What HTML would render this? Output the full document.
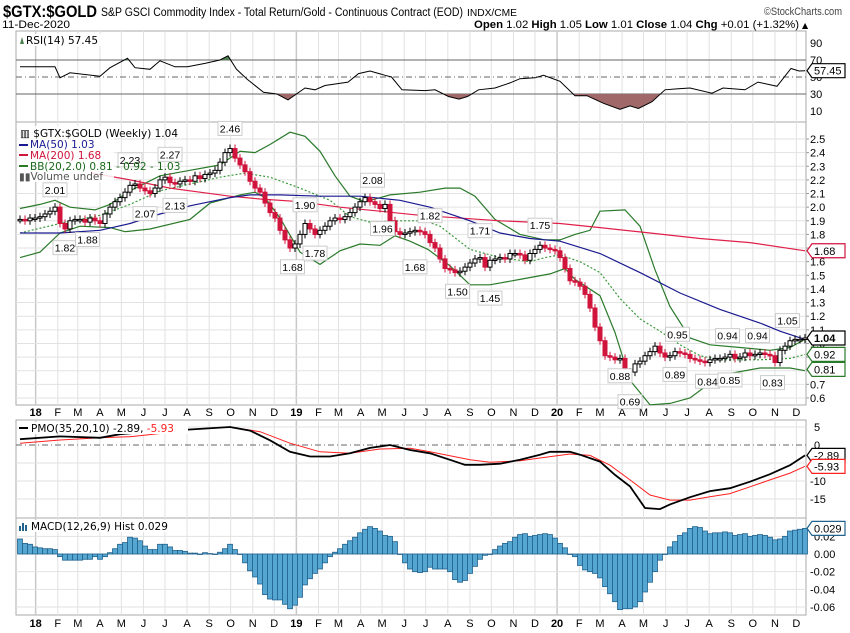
<!DOCTYPE html>
<html><head><meta charset="utf-8"><title>$GTX:$GOLD</title>
<style>
html,body{margin:0;padding:0;background:#fff;width:850px;height:633px;overflow:hidden}
svg{display:block;font-family:"DejaVu Sans","Liberation Sans",sans-serif}
.ax{font-family:"Liberation Sans",sans-serif;font-size:11px;fill:#000}
.lg{font-size:10.5px}
.ann{font-family:"Liberation Sans",sans-serif;font-size:10.5px}
</style></head>
<body>
<svg id="chart" width="850" height="633" viewBox="0 0 850 633" xmlns="http://www.w3.org/2000/svg">
<g id="header">
<text x="3" y="17" textLength="94" lengthAdjust="spacingAndGlyphs" style="font-family:'Liberation Sans',sans-serif;font-weight:bold;font-size:17px">$GTX:$GOLD</text>
<text x="101" y="16" textLength="362" lengthAdjust="spacingAndGlyphs" style="font-family:'Liberation Sans',sans-serif;font-size:11.5px">S&amp;P GSCI Commodity Index - Total Return/Gold - Continuous Contract (EOD)</text>
<text x="467" y="16" textLength="50" lengthAdjust="spacingAndGlyphs" style="font-family:'Liberation Sans',sans-serif;font-size:10px">INDX/CME</text>
<text x="842" y="15" text-anchor="end" textLength="78" lengthAdjust="spacingAndGlyphs" style="font-family:'Liberation Sans',sans-serif;font-size:11px;fill:#444">©StockCharts.com</text>
<text x="2" y="28" textLength="68" lengthAdjust="spacingAndGlyphs" style="font-family:'Liberation Sans',sans-serif;font-size:11px">11-Dec-2020</text>
<text x="474" y="28" textLength="325" lengthAdjust="spacingAndGlyphs" style="font-family:'Liberation Sans',sans-serif;font-size:11px"><tspan font-weight="bold">Open</tspan> 1.02 <tspan font-weight="bold">High</tspan> 1.05 <tspan font-weight="bold">Low</tspan> 1.01 <tspan font-weight="bold">Close</tspan> 1.04 <tspan font-weight="bold">Chg</tspan> +0.01 (+1.32%)</text>
<text x="802" y="28" style="font-size:8px">▲</text>
</g>
<g id="grid"></g>
<g id="plots"></g>
<g id="overlay"></g>
</svg>
<script>
// ---------- data ----------
const closes = [1.91,1.90,1.92,1.92,1.93,1.95,1.97,2.00,1.88,1.84,
1.90,1.91,1.91,1.89,1.92,1.90,1.88,1.95,2.00,2.04,
2.07,2.11,2.16,2.17,2.14,2.12,2.10,2.14,2.20,2.22,
2.18,2.17,2.19,2.20,2.19,2.23,2.21,2.24,2.25,2.27,
2.33,2.40,2.43,2.36,2.31,2.26,2.19,2.14,2.11,2.03,
1.96,1.92,1.83,1.76,1.70,1.73,1.80,1.88,1.84,1.80,
1.83,1.86,1.90,1.92,1.91,1.93,1.96,2.00,2.04,2.07,
2.04,2.02,1.99,2.02,1.90,1.82,1.80,1.81,1.82,1.83,
1.82,1.80,1.74,1.70,1.62,1.55,1.54,1.52,1.53,1.56,
1.59,1.62,1.63,1.56,1.61,1.62,1.63,1.62,1.66,1.66,
1.65,1.61,1.66,1.69,1.72,1.70,1.69,1.68,1.63,1.55,
1.46,1.45,1.42,1.36,1.26,1.12,1.02,0.91,0.90,0.88,
0.89,0.76,0.79,0.85,0.87,0.91,0.94,0.98,0.93,0.90,
0.91,0.94,0.93,0.92,0.89,0.88,0.87,0.86,0.88,0.89,
0.89,0.90,0.92,0.89,0.90,0.93,0.91,0.92,0.93,0.92,
0.91,0.86,0.95,0.98,1.02,1.03,1.03,1.04];
const ma50Weeks = [0,8,16,22,28,34,38,42,46,52,60,68,76,82,90,96,102,108,116,124,132,140,148,152,157];
const ma50Values = [1.81,1.81,1.83,1.88,1.95,2.01,2.04,2.07,2.09,2.09,2.08,2.08,2.05,2.00,1.90,1.81,1.77,1.75,1.66,1.52,1.37,1.25,1.15,1.09,1.03];
const ma200Weeks = [14.4,22,30,36,42,48,56,64,72,80,84,96,108,116,126,136,146,157];
const ma200Values = [2.25,2.20,2.14,2.11,2.08,2.06,2.04,2.00,1.97,1.94,1.93,1.90,1.88,1.85,1.81,1.77,1.74,1.68];
const bbUpperWeeks = [0,4,7,10,15,18,22,28,34,40,44,47,50,54,57,60,63,66,69,74,80,85,88,91,95,100,105,108,111,114,116,121,124,127,130,134,138,144,150,154,157];
const bbUpperValues = [1.99,2.02,2.05,2.00,1.98,2.02,2.12,2.23,2.27,2.31,2.41,2.40,2.46,2.55,2.52,2.41,2.23,2.08,2.04,2.09,2.11,2.14,2.14,2.08,1.91,1.80,1.76,1.76,1.80,1.83,1.97,1.98,1.86,1.54,1.27,1.04,0.99,0.97,0.95,0.97,1.03];
const bbLowerWeeks = [0,4,8,12,18,21,26,34,38,44,47,49,52,56,60,64,68,72,75,78,81.6,86,90,94,100,106,109,111,116,119,122,126,130,134,138,142,148,154,157];
const bbLowerValues = [1.63,1.67,1.81,1.86,1.85,1.82,1.84,1.91,2.03,2.09,2.11,2.07,1.92,1.67,1.58,1.68,1.73,1.72,1.79,1.75,1.69,1.57,1.43,1.43,1.47,1.51,1.55,1.47,1.35,1.08,0.73,0.55,0.56,0.60,0.71,0.78,0.82,0.82,0.80];
const bbMidWeeks = [0,8,16,22,28,34,40,45,50,56,62,66,70,76,81,84,90,96,102,105,108,112,116,120,124,128,132,136,140,148,154,157];
const bbMidValues = [1.81,1.88,1.94,2.02,2.12,2.17,2.22,2.25,2.22,2.14,2.05,1.93,1.89,1.90,1.90,1.86,1.69,1.63,1.60,1.63,1.65,1.60,1.52,1.33,1.18,1.09,0.99,0.91,0.88,0.88,0.89,0.92];
const rsiWeeks = [0,7,8,10,16,18,21.5,23,26,28,31,33.5,37,40,41.6,43.3,45.5,48.7,51.4,53.6,57,59,61,65.6,67.7,70,73,74.3,76.4,81,83,85.7,87.8,89.5,91.7,95,98,100,103,104.7,108,111,113.4,116.7,120,122,123.7,126.4,129,131.3,134,138.4,140.6,145,147.6,151.4,154.2,155.8,157];
const rsiValues = [62,62,49,55,51,61,72,61,59,69,62,62,66,70,75,59,47,32,30,23,37,35,40,44,54,57,52,50,35,34,35,27,24,27,35,37,43,48,49,52,45,28,28,19,12,16,13,21,35,36,37,31,37,35,44,39,60,57,57.45];
const pmoWeeks = [0,8,16,20,25,29,34,42,46,50,54,58,62,66,70,74,78,82,86,89,92,96,100,104,106,110,112,116,119,122,125,128,130,134,138,142,146,150,154,157];
const pmoValues = [1.6,2.4,2.0,3.0,3.6,4.0,4.3,5.0,4.0,1.3,-1.9,-3.2,-3.2,-2.3,-0.8,0,-1.4,-2.3,-4.1,-5.5,-5.5,-5.2,-4.1,-2.7,-1.9,-1.9,-2.7,-4.6,-8.3,-11.5,-17.5,-17.8,-16.5,-14.5,-12.8,-12,-10.2,-8.1,-5.6,-2.89];
const pmoSigWeeks = [0,8,16,22,28,34,42,48,54,60,66,72,78,82,90,94,100,104,110,114,118,122,126,130,134,138,142,146,150,154,157];
const pmoSigValues = [0.5,1.4,2.0,2.3,3.2,4.3,5.0,3.7,0.5,-1.9,-2.3,-1.1,-0.9,-1.9,-4.1,-4.8,-4.4,-3.6,-2.5,-2.9,-5.6,-9.7,-13.9,-15.3,-15.3,-14.4,-13.5,-11.6,-9.7,-7.8,-5.93];
const macdHist = [.017,.012,.011,.008,.007,.006,.006,.005,-.003,-.007,
-.007,-.007,-.007,-.006,-.006,-.003,-.006,-.003,.0015,.006,
.011,.013,.019,.018,.015,.009,.005,.005,.011,.011,
.008,.004,.004,.003,.001,.001,0,.0015,.0005,-.0005,
.002,.006,.011,.005,-.0005,-.010,-.019,-.026,-.034,-.046,
-.051,-.052,-.052,-.057,-.062,-.058,-.049,-.035,-.028,-.022,
-.017,-.010,-.003,.002,.006,.011,.015,.019,.024,.028,
.031,.029,.026,.021,.020,.014,0,-.010,-.017,-.020,
-.021,-.020,-.015,
-.017,-.017,-.017,-.020,-.029,-.032,-.030,-.022,-.014,-.006,
-.0015,-.0005,.005,.009,.012,.014,.019,.022,.023,.020,
.021,.022,.023,.022,.018,.012,.007,-.0005,-.003,-.013,
-.018,-.020,-.022,-.027,-.037,-.045,-.054,-.063,-.062,-.062,
-.060,-.054,-.043,-.032,-.020,-.007,-.0005,.008,.014,.021,
.024,.029,.031,.030,.026,.023,.024,.024,.025,.024,
.021,.022,.023,.020,.021,.022,.021,.019,.016,.017,
.020,.026,.027,.028,.029];
const priceTicks = [2.5,2.4,2.3,2.2,2.1,2.0,1.9,1.8,1.7,1.6,1.5,1.4,1.3,1.2,1.1,1.0,0.9,0.8,0.7,0.6];
const rsiTicks = [90,70,50,30,10];
const pmoTicks = [5,0,-5,-10,-15];
const macdTicks = [0.02,0.00,-0.02,-0.04,-0.06];
const monthLabels = ["18","F","M","A","M","J","J","A","S","O","N","D","19","F","M","A","M","J","J","A","S","O","N","D","20","F","M","A","M","J","J","A","S","O","N","D"];
const annotValues = ["2.01","1.82","1.88","2.23","2.07","2.27","2.13","2.46","1.68","1.90","1.78","2.08","1.96","1.68","1.82","1.71","1.50","1.45","1.75","0.88","0.69","0.95","0.89","0.84","0.94","0.85","0.94","0.83","1.05"];
const annotWeeks = [7,9,13.5,22,25,30,31,42,54.5,57,59,70.5,72.5,79,82,92,87.5,94,104,120,122,131.5,131,137.5,141.5,142,147.5,150.5,153.5];
const annotValuesNum = [2.01,1.82,1.88,2.23,2.07,2.27,2.13,2.46,1.68,1.90,1.78,2.08,1.96,1.68,1.82,1.71,1.50,1.45,1.75,0.88,0.69,0.95,0.89,0.84,0.94,0.85,0.94,0.83,1.05];
const annotAbove = [1,0,0,1,0,1,0,1,0,1,0,1,0,0,1,1,0,0,1,0,0,1,0,0,1,0,1,0,1];

// ---------- scales ----------
const L=16, R=806;
const X = w => 20 + 5*w;
const YP = v => 139 + (2.5 - v)*136.3;
const YR = v => 43 + (90 - v)*0.85;
const YM = v => 445 - 3.6*v;
const YH = v => 554 - 883*v;
const NS='http://www.w3.org/2000/svg';
function mk(tag, attrs, parent){const e=document.createElementNS(NS,tag);for(const k in attrs)e.setAttribute(k,attrs[k]);parent.appendChild(e);return e;}
const grid=document.getElementById('grid'), plots=document.getElementById('plots'), ov=document.getElementById('overlay');
const weekOf = d => (d - Date.UTC(2017,11,8))/(7*864e5);

const panels=[[31,122,'rsi-panel'],[122,405,'price-panel'],[420,518,'pmo-panel'],[518,615,'macd-panel']];
panels.forEach(p=>{
  const r=mk('rect',{x:L,y:p[0],width:R-L,height:p[1]-p[0],fill:'#fff',stroke:'#aaa','stroke-width':1},grid);
  
  
});
monthLabels.forEach((lab,i)=>{
  const y=2018+Math.floor(i/12), m=i%12;
  const x=X(weekOf(Date.UTC(y,m,1)))-1.5;
  [[31,405],[420,615]].forEach(s=>mk('line',{x1:x,x2:x,y1:s[0],y2:s[1],stroke:m===0?'#c8c8c8':'#e2e2e2','stroke-width':m===0?1.5:1},grid));
  [416,627].forEach(ty=>{
    const t=mk('text',{x:x,y:ty,'text-anchor':'middle',class:'ax','font-weight':m===0?'bold':'normal','font-size':m===0?'12':'11'},grid);
    t.textContent=lab;
    
    
  });
});
priceTicks.forEach(v=>{
  const y=YP(v);
  mk('line',{x1:L,x2:R,y1:y,y2:y,stroke:'#e2e2e2'},grid);
  mk('line',{x1:R,x2:R+3,y1:y,y2:y,stroke:'#999'},grid);
  const t=mk('text',{x:810,y:y+4,class:'ax'},grid);t.textContent=v.toFixed(1);
  
  
});
rsiTicks.forEach(v=>{
  const y=YR(v);
  if(v===70||v===30) mk('line',{x1:L,x2:R,y1:y,y2:y,stroke:'#666','stroke-width':1},grid);
  else if(v===50) mk('line',{x1:L,x2:R,y1:y,y2:y,stroke:'#666','stroke-dasharray':'6,3,1,3'},grid);
  const t=mk('text',{x:810,y:y+4,class:'ax'},grid);t.textContent=v;
  
  
});
pmoTicks.forEach(v=>{
  const y=YM(v);
  mk('line',{x1:L,x2:R,y1:y,y2:y,stroke:v===0?'#666':'#e2e2e2','stroke-dasharray':v===0?'6,3,1,3':'none'},grid);
  const t=mk('text',{x:v<0?810:814,y:y+4,class:'ax'},grid);t.textContent=v;
  
  
});
macdTicks.forEach(v=>{
  const y=YH(v);
  mk('line',{x1:L,x2:R,y1:y,y2:y,stroke:'#e2e2e2'},grid);
  const t=mk('text',{x:v<0?810:814,y:y+4,class:'ax'},grid);t.textContent=v.toFixed(2);
  
  
});

function pathOf(ws,vs,fy){return ws.map((w,i)=>(i?'L':'M')+X(w).toFixed(1)+','+fy(vs[i]).toFixed(1)).join(' ');}
const defs=mk('defs',{},plots);
const c1=mk('clipPath',{id:'above70'},defs);mk('rect',{x:L,y:31,width:R-L,height:YR(70)-31},c1);
const c2=mk('clipPath',{id:'below30'},defs);mk('rect',{x:L,y:YR(30),width:R-L,height:122-YR(30)},c2);
const rsiD=pathOf(rsiWeeks,rsiValues,YR);
const sh1=mk('path',{d:rsiD+` L${X(157)},${YR(70)} L${X(0)},${YR(70)} Z`,fill:'#4f7f4f','clip-path':'url(#above70)'},plots);


const sh2=mk('path',{d:rsiD+` L${X(157)},${YR(30)} L${X(0)},${YR(30)} Z`,fill:'#a06868','clip-path':'url(#below30)'},plots);


const rsiL=mk('path',{d:rsiD,fill:'none',stroke:'#000','stroke-width':1},plots);



const lines=[[bbUpperWeeks,bbUpperValues,'#2a7a2a','none','bb-upper'],[bbLowerWeeks,bbLowerValues,'#2a7a2a','none','bb-lower'],[bbMidWeeks,bbMidValues,'#3a9a3a','2,2','bb-middle'],[ma200Weeks,ma200Values,'#e0204a','none','ma200-line'],[ma50Weeks,ma50Values,'#1a1a90','none','ma50-line']];
lines.forEach(l=>{
  const p=mk('path',{d:pathOf(l[0],l[1],YP),fill:'none',stroke:l[2],'stroke-width':1.2,'stroke-dasharray':l[3]},plots);
  
  
});
closes.forEach((c,i)=>{
  const o=i?closes[i-1]:c, x=X(i), up=c>=o;
  const hi=Math.max(o,c), lo=Math.min(o,c);
  const col=up?'#000':'#d0143c';
  mk('line',{x1:x,x2:x,y1:YP(hi)-4,y2:YP(lo)+4,stroke:col,'stroke-width':1},plots);
  const h=Math.max(1.5,YP(lo)-YP(hi));
  const r=mk('rect',{x:x-2,y:YP(hi),width:4,height:h,fill:up?'#fff':col,stroke:col,'stroke-width':1},plots);
  
  
});
annotValues.forEach((s,i)=>{
  const x=X(annotWeeks[i]), y=YP(annotValuesNum[i])+(annotAbove[i]?-16:16);
  const g=mk('g',{},ov);
  
  
  mk('rect',{x:x-12,y:y-7,width:24,height:14,fill:'#fff',stroke:'#ccc'},g);
  const t=mk('text',{x:x,y:y+4,'text-anchor':'middle',class:'ann'},g);t.textContent=s;
});
[[pmoSigWeeks,pmoSigValues,'#ff2020',1,'pmo-signal-line'],[pmoWeeks,pmoValues,'#000',1.8,'pmo-line']].forEach(l=>{
  const p=mk('path',{d:pathOf(l[0],l[1],YM),fill:'none',stroke:l[2],'stroke-width':l[3]},plots);
  
  
});
macdHist.forEach((v,i)=>{
  const x=X(i), y0=YH(0), y1=YH(v);
  const r=mk('rect',{x:x-2.5,y:Math.min(y0,y1),width:5,height:Math.max(0.5,Math.abs(y1-y0)),fill:'#55a6d0',stroke:'#21628e','stroke-width':0.8},plots);
  
  
});
function tag(y,txt,col,bold,name){
  const g=mk('g',{},ov);
  
  
  mk('path',{d:`M807,${y} L812,${y-7} L845,${y-7} L845,${y+7} L812,${y+7} Z`,fill:'#fff',stroke:col,'stroke-width':1.2},g);
  const t=mk('text',{x:814,y:y+4,class:'ax','font-weight':bold?'bold':'normal'},g);t.textContent=txt;
}
tag(YR(57.45),'57.45','#000',false,'rsi-value-tag');
tag(YP(1.68),'1.68','#d0143c',false,'ma200-value-tag');
tag(YP(1.04),'1.04','#000',true,'close-value-tag');
tag(YP(0.92),'0.92','#2a7a2a',false,'bb-mid-value-tag');
tag(YP(0.81),'0.81','#2a7a2a',false,'bb-lower-value-tag');
tag(YM(-2.89),'-2.89','#000',false,'pmo-value-tag');
tag(YM(-5.93),'-5.93','#ff2020',false,'pmo-signal-value-tag');
tag(YH(0.029),'0.029','#21628e',false,'macd-value-tag');
</script>
<div style="position:absolute;left:0;top:0;width:850px;height:633px;pointer-events:none">
<svg width="850" height="633" style="position:absolute;left:0;top:0">
<g>
<rect x="18" y="34" width="100" height="12" fill="#fff"/>
<path d="M20,44 L22,37 L24,44 Z" fill="#4f7f4f"/>
<text x="26" y="44" style="font-family:'DejaVu Sans',sans-serif;font-size:10.5px">RSI(14) 57.45</text>
</g>
<g style="font-family:'DejaVu Sans',sans-serif;font-size:10.5px">
<rect x="18" y="126" width="96" height="56" fill="#fff" fill-opacity="0.85"/>
<text x="20" y="137">▥ $GTX:$GOLD (Weekly) 1.04</text>
<line x1="19" y1="145" x2="28" y2="145" stroke="#1a1a90" stroke-width="2"/><text x="30" y="148" fill="#1a1a90">MA(50) 1.03</text>
<line x1="19" y1="155" x2="28" y2="155" stroke="#d0143c" stroke-width="2"/><text x="30" y="159" fill="#d0143c">MA(200) 1.68</text>
<line x1="19" y1="166" x2="28" y2="166" stroke="#2a7a2a" stroke-width="2"/><text x="30" y="170" fill="#1a6a1a">BB(20,2.0) 0.81 - 0.92 - 1.03</text>
<text x="19" y="180" fill="#555">▮▮Volume undef</text>
</g>
<g style="font-family:'DejaVu Sans',sans-serif;font-size:10.5px">
<rect x="18" y="422" width="170" height="12" fill="#fff"/>
<line x1="19" y1="428" x2="28" y2="428" stroke="#000" stroke-width="2"/>
<text x="31" y="432">PMO(35,20,10) -2.89, <tspan fill="#ff2020">-5.93</tspan></text>
</g>
<g style="font-family:'DejaVu Sans',sans-serif;font-size:10.5px">
<rect x="18" y="520" width="160" height="12" fill="#fff"/>
<rect x="19" y="526" width="2" height="5" fill="#21628e"/><rect x="22" y="523" width="2" height="8" fill="#21628e"/><rect x="25" y="525" width="2" height="6" fill="#21628e"/>
<text x="31" y="530">MACD(12,26,9) Hist 0.029</text>
</g>
</svg>
</div>
</body></html>
